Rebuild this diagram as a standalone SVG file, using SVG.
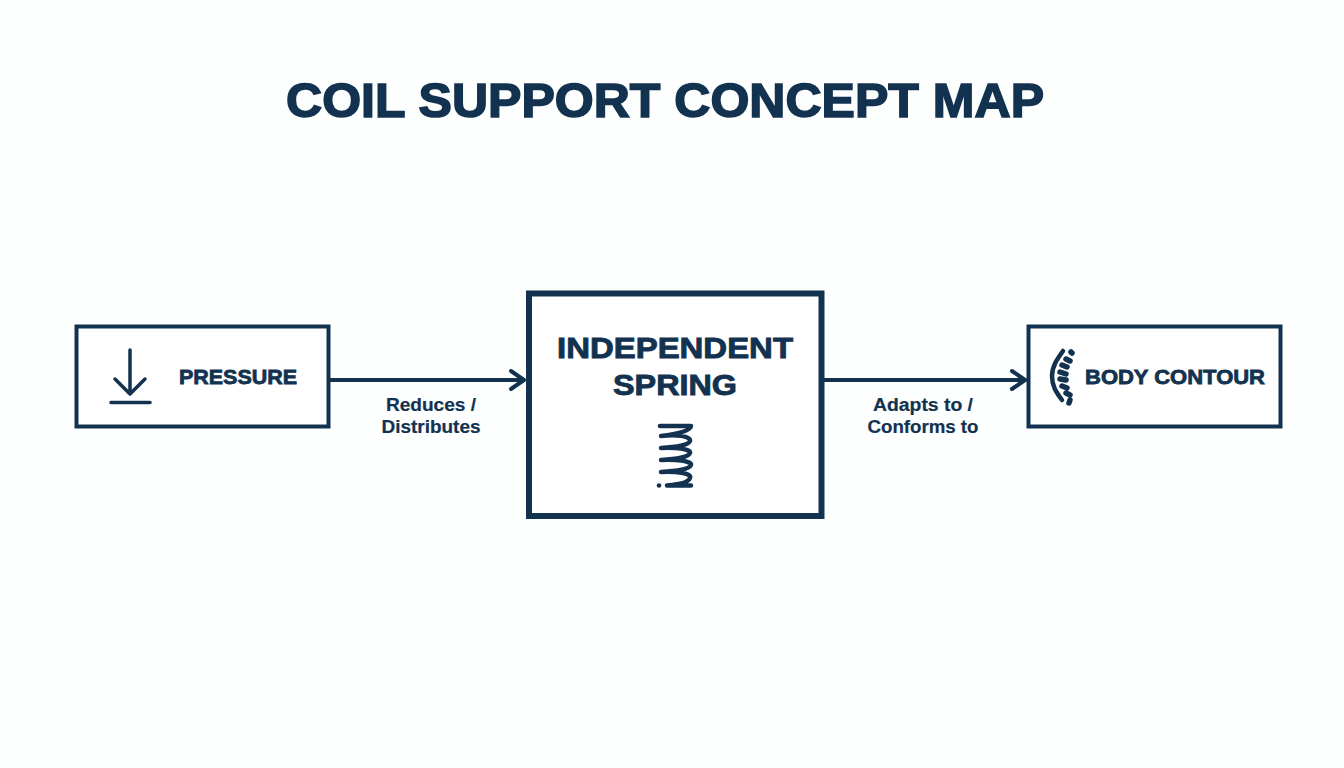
<svg xmlns="http://www.w3.org/2000/svg" width="1344" height="768" viewBox="0 0 1344 768">
<style>
text{font-family:"Liberation Sans",Arial,sans-serif;fill:#12324f;text-anchor:middle;font-weight:700}
.box{fill:#fff;stroke:#12324f}
.ln{fill:none;stroke:#12324f;stroke-linecap:round;stroke-linejoin:round}
.lab{font-size:18px;stroke:#12324f;stroke-width:.2px}
.nm{font-size:21px;stroke:#12324f;stroke-width:.8px}
.big{font-size:30px;stroke:#12324f;stroke-width:.9px}
</style>
<rect width="1344" height="768" fill="#fdfefe"/>
<text x="665" y="117" font-size="48" stroke="#12324f" stroke-width="1.600" textLength="758" lengthAdjust="spacingAndGlyphs">COIL SUPPORT CONCEPT MAP</text>
<g id="connectors">
<g id="edge-pressure-spring"><path class="ln" stroke-width="4" d="M330 380H523"/><path class="ln" stroke-width="4" d="M511 371l13 9l-13 9"/></g>
<g id="edge-spring-contour"><path class="ln" stroke-width="4" d="M823 380H1025"/><path class="ln" stroke-width="4" d="M1012 371l13 9l-13 9"/></g>
<text class="lab" x="431" y="411" textLength="90" lengthAdjust="spacingAndGlyphs">Reduces /</text>
<text class="lab" x="431" y="433" textLength="99" lengthAdjust="spacingAndGlyphs">Distributes</text>
<text class="lab" x="923" y="411" textLength="100" lengthAdjust="spacingAndGlyphs">Adapts to /</text>
<text class="lab" x="923" y="433" textLength="111" lengthAdjust="spacingAndGlyphs">Conforms to</text>
</g>
<g id="node-pressure">
<rect class="box" x="76.500" y="326.500" width="252" height="100" stroke-width="4"/>
<path class="ln" stroke-width="3.500" d="M130 350V394M115 379l15 15l15-15"/>
<path class="ln" stroke-width="3.500" d="M111 402.500H150"/>
<text class="nm" x="238" y="384" textLength="118" lengthAdjust="spacingAndGlyphs">PRESSURE</text>
</g>
<g id="node-spring">
<rect class="box" x="529" y="293.500" width="292.500" height="222.500" stroke-width="6"/>
<text class="big" x="675" y="358" textLength="236" lengthAdjust="spacingAndGlyphs">INDEPENDENT</text>
<text class="big" x="675" y="395" textLength="124" lengthAdjust="spacingAndGlyphs">SPRING</text>
<path class="ln" stroke-width="4.500" d="M660 426H691C690 431 678 434 661 436C676 434 691 436 690 441C688 446 675 447 661 448C675 447 691 449 690 453C688 458 675 459 661 460C675 459 692 461 691 465C689 470 675 471 661 472C675 471 692 473 690 478C688 483 680 484 667 485.500M667 485.500H691"/>
<circle cx="659" cy="485.500" r="2.300" fill="#12324f"/>
</g>
<g id="node-contour">
<rect class="box" x="1028.500" y="326.500" width="252" height="100" stroke-width="4"/>
<path class="ln" stroke-width="4.500" d="M1063 351C1058 358 1052 366 1052 376C1052 386 1056 392 1062 400"/>
<path class="ln" stroke-width="5.500" d="M1071 352l1 1M1066 359l4 2M1062 365l5 2M1060 372l6 2M1060 379l6 1M1062 386l5 2M1066 393l4 2M1070 400l-1 3"/>
<text class="nm" x="1175" y="384" textLength="180" lengthAdjust="spacingAndGlyphs">BODY CONTOUR</text>
</g>
</svg>
